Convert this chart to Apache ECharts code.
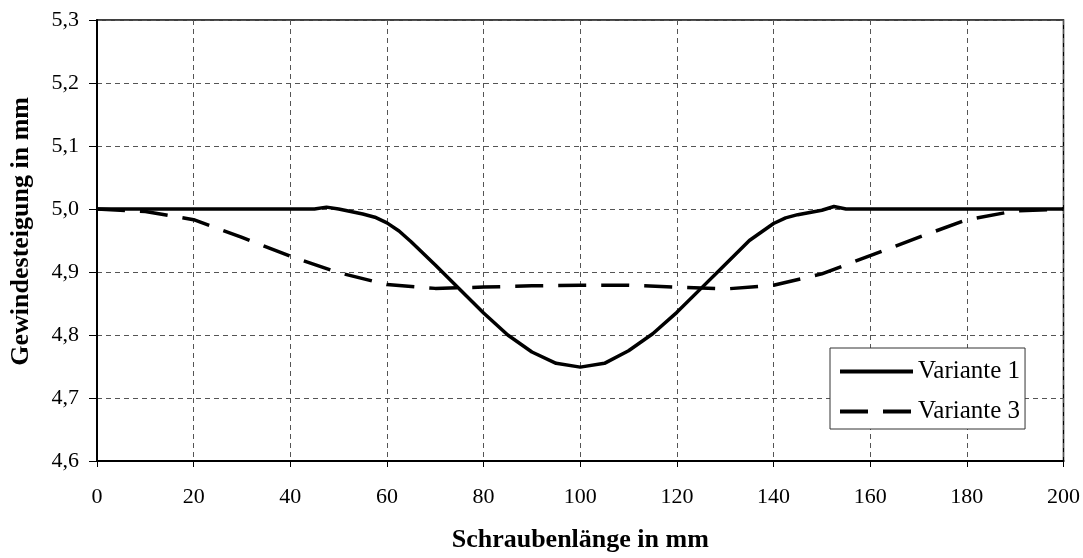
<!DOCTYPE html>
<html>
<head>
<meta charset="utf-8">
<script src="https://cdn.jsdelivr.net/npm/echarts@6/dist/echarts.min.js"></script>
<style>html,body{margin:0;padding:0;background:#fff}#c{width:1083px;height:558px}</style>
</head>
<body>
<div id="c"></div>
<script>
// Schraubenlänge (mm) and Gewindesteigung (mm)
const v1X = [0,5,10,15,20,25,30,35,40,45,47.5,50,55,57.5,60,62.5,65,70,75,80,85,90,95,100,105,110,115,120,125,130,135,140,142.5,145,150,152.5,155,160,165,170,175,180,185,190,195,200];
const v1Y = [5.0,5.0,5.0,5.0,5.0,5.0,5.0,5.0,5.0,5.0,5.003,5.0,4.992,4.987,4.978,4.965,4.948,4.911,4.873,4.835,4.800,4.773,4.755,4.749,4.755,4.775,4.802,4.836,4.874,4.912,4.950,4.977,4.986,4.991,4.998,5.004,5.0,5.0,5.0,5.0,5.0,5.0,5.0,5.0,5.0,5.0];
const v3X = [0,10,20,30,40,50,60,70,80,90,100,110,120,130,140,150,160,170,180,190,200];
const v3Y = [5.0,4.996,4.983,4.955,4.925,4.899,4.880,4.874,4.876,4.878,4.879,4.879,4.876,4.873,4.879,4.897,4.926,4.955,4.983,4.997,5.0];
const seriesNames = ['Variante 1','Variante 3'];
const xTitle = 'Schraubenlänge in mm';
const yTitle = 'Gewindesteigung in mm';

const font = '"Liberation Serif","Times New Roman",serif';
const chart = echarts.init(document.getElementById('c'));
chart.setOption({
  animation:false,
  backgroundColor:'#fff',
  grid:{left:97,right:19,top:20,bottom:93,show:true,borderColor:'#000',borderWidth:1.5,backgroundColor:'transparent'},
  legend:{
    orient:'vertical', left:830, top:348,
    backgroundColor:'#fff', borderColor:'#333', borderWidth:1,
    padding:[11,5,5,8], itemGap:15,
    itemWidth:73, itemHeight:14,
    itemStyle:{color:'rgba(0,0,0,0)',borderColor:'rgba(0,0,0,0)',borderWidth:0},
    lineStyle:{width:4},
    textStyle:{fontFamily:font,fontSize:25,color:'#000',lineHeight:25},
    data:[{name:seriesNames[0]},{name:seriesNames[1]}]
  },
  graphic:[{
    type:'text', left:8, top:97, rotation:Math.PI/2,
    style:{text:yTitle,fontFamily:font,fontSize:26,fontWeight:'bold',fill:'#000'}
  }],
  xAxis:{
    type:'value', min:0, max:200, interval:20,
    name:xTitle, nameLocation:'middle', nameGap:66,
    nameTextStyle:{fontFamily:font,fontSize:26,fontWeight:'bold',color:'#000'},
    axisLine:{lineStyle:{color:'#000',width:2}},
    axisTick:{show:true,inside:false,length:6,lineStyle:{color:'#000',width:1}},
    axisLabel:{fontFamily:font,fontSize:22,color:'#000',margin:25},
    splitLine:{show:true,lineStyle:{color:'#555',width:1,type:[5,4]}}
  },
  yAxis:{
    type:'value', min:4.6, max:5.3, interval:0.1,
    axisLine:{show:true,lineStyle:{color:'#000',width:2}},
    axisTick:{show:true,inside:false,length:8,lineStyle:{color:'#000',width:1}},
    axisLabel:{fontFamily:font,fontSize:22,color:'#000',margin:18,
      formatter:v=>v.toFixed(1).replace('.',',')},
    splitLine:{show:true,lineStyle:{color:'#555',width:1,type:[5,4]}}
  },
  series:[
    {name:seriesNames[0],type:'line',showSymbol:false,symbol:'none',
     data:v1X.map((x,i)=>[x,v1Y[i]]),
     lineStyle:{color:'#000',width:3.5},itemStyle:{color:'#000'}},
    {name:seriesNames[1],type:'line',showSymbol:false,symbol:'none',
     data:v3X.map((x,i)=>[x,v3Y[i]]),
     lineStyle:{color:'#000',width:3.5,type:[28,15]},itemStyle:{color:'#000'}}
  ]
});
</script>
</body>
</html>
